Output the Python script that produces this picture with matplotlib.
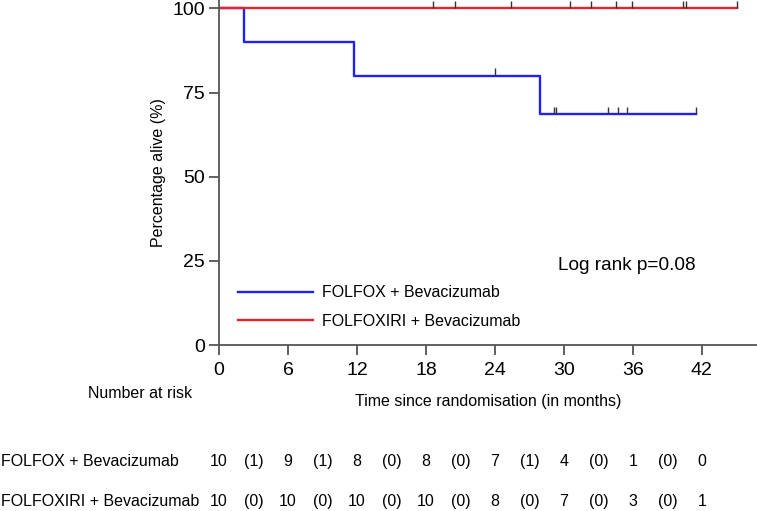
import numpy as np
import matplotlib.pyplot as plt
from matplotlib.transforms import blended_transform_factory

plt.rcParams['font.family'] = ['Liberation Sans', 'DejaVu Sans']

# Kaplan-Meier steps
folfox_t = [0, 2.15, 11.72, 27.9, 41.5]
folfox_s = [100, 90, 80, 68.57, 68.57]
folfox_cens_t = [24.0, 29.1, 29.3, 33.8, 34.75, 35.5, 41.5]
folfox_cens_s = [80, 68.57, 68.57, 68.57, 68.57, 68.57, 68.57]

folfoxiri_t = [0, 45.1]
folfoxiri_s = [100, 100]
folfoxiri_cens_t = [18.65, 20.5, 25.4, 30.5, 32.4, 34.5, 35.9, 40.4, 40.6, 45.1]

# number at risk table
risk_times = [0, 6, 12, 18, 24, 30, 36, 42]
folfox_risk = [10, 9, 8, 8, 7, 4, 1, 0]
folfox_events = [1, 1, 0, 0, 1, 0, 0]
folfoxiri_risk = [10, 10, 10, 10, 8, 7, 3, 1]
folfoxiri_events = [0, 0, 0, 0, 0, 0, 0]

blue = '#2020ff'
red = '#e3262b'
fs = 11.5

fig = plt.figure(figsize=(7.57, 5.11), dpi=100)
ax = fig.add_axes([219/757, 166/511, 538/757, 345/511])

ax.step(folfox_t, folfox_s, where='post', color=blue, lw=1.7, label='FOLFOX + Bevacizumab')
ax.step(folfoxiri_t, folfoxiri_s, where='post', color=red, lw=1.7, label='FOLFOXIRI + Bevacizumab')
ax.vlines(folfox_cens_t, folfox_cens_s, np.array(folfox_cens_s) + 2.2, color='#333333', lw=1)
ax.vlines(folfoxiri_cens_t, 100, 102.2, color='#333333', lw=1)

ax.set_xlim(0, 46.8)
ax.set_ylim(0, 102.5)
ax.set_xticks(range(0, 43, 6))
ax.set_yticks([0, 25, 50, 75, 100])
for s in ['top', 'right']:
    ax.spines[s].set_visible(False)
for s in ['left', 'bottom']:
    ax.spines[s].set_color('#555555')
    ax.spines[s].set_linewidth(1.3)
ax.tick_params(axis='both', direction='out', length=7, width=1.3, color='#555555', labelsize=14)
ax.tick_params(axis='x', pad=5)
ax.tick_params(axis='y', pad=3)

ax.set_ylabel('Percentage alive (%)', fontsize=fs, labelpad=5)
ax.set_xlabel('Time since randomisation (in months)', fontsize=fs, labelpad=11)

ax.legend(loc='lower left', bbox_to_anchor=(0.008, 0.005), frameon=False, fontsize=fs,
          handlelength=4.7, handletextpad=0.6, labelspacing=0.85)
fig.text(558/757, 1 - 265/511, 'Log rank p=0.08', fontsize=13.7, va='center')

# number at risk
tr = blended_transform_factory(ax.transData, fig.transFigure)
fig.text(88/757, 1 - 394/511, 'Number at risk', fontsize=fs, va='center')
rows = [('FOLFOX + Bevacizumab', folfox_risk, folfox_events, 461),
        ('FOLFOXIRI + Bevacizumab', folfoxiri_risk, folfoxiri_events, 501)]
for name, risk, events, ypix in rows:
    yf = 1 - ypix/511
    fig.text(1/757, yf, name, fontsize=fs, va='center')
    for t, n in zip(risk_times, risk):
        ax.text(t, yf, str(n), transform=tr, fontsize=fs, ha='center', va='center', clip_on=False)
    for i, e in enumerate(events):
        mid = (risk_times[i] + risk_times[i + 1]) / 2
        ax.text(mid, yf, '(%d)' % e, transform=tr, fontsize=fs, ha='center', va='center', clip_on=False)

fig.savefig('out.png', dpi=100)
